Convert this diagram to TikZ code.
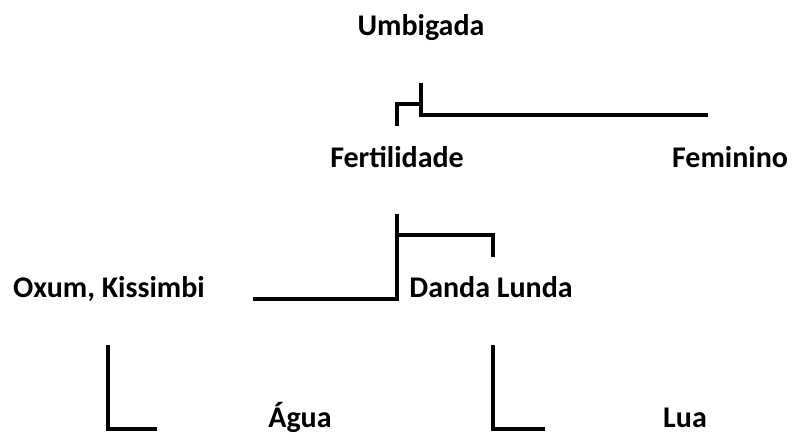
\documentclass[tikz,border=0pt]{standalone}
\usepackage{fontspec}
\setmainfont{Carlito}
\begin{document}
\begin{tikzpicture}[x=1pt,y=-1pt,
  lbl/.style={font=\fontsize{30}{34}\selectfont\bfseries, inner sep=0pt, anchor=base},
  bar/.style={line width=4.5pt, line cap=butt, line join=miter}]
\useasboundingbox (0,0) rectangle (794,433);
\node[lbl] (umb) at (421,36) {Umbigada};
\node[lbl] (fer) at (397,167) {Fertilidade};
\node[lbl] (fem) at (730,167) {Feminino};
\node[lbl] (oxu) at (109,297) {Oxum, Kissimbi};
\node[lbl] (dan) at (491,297) {Danda Lunda};
\node[lbl] (agu) at (300,427) {Água};
\node[lbl] (lua) at (685,427) {Lua};
% connectors
\draw[bar] (397,126) -- (397,104) -- (421,104);
\draw[bar] (421,83) -- (421,115) -- (708,115);
\draw[bar] (397,214) -- (397,299) -- (253,299);
\draw[bar] (397,235) -- (493,235) -- (493,257);
\draw[bar] (108,345) -- (108,429) -- (157,429);
\draw[bar] (493,345) -- (493,429) -- (545,429);
\end{tikzpicture}
\end{document}
